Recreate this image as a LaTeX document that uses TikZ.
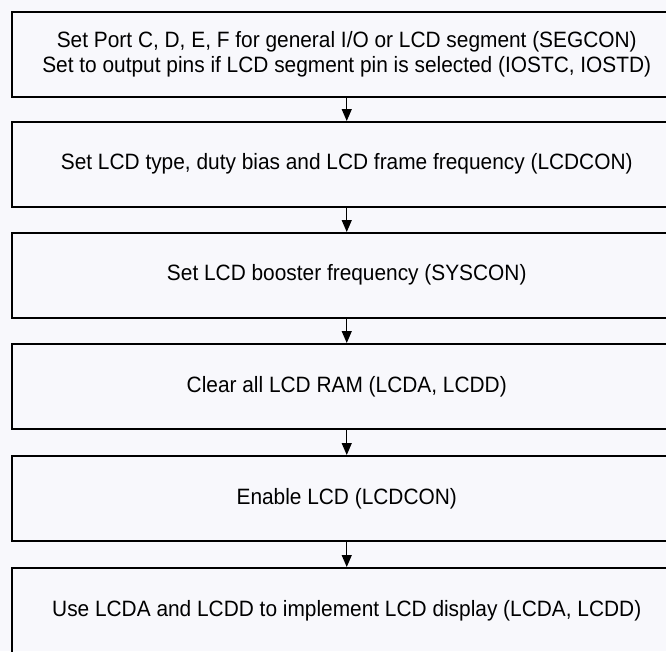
\documentclass[tikz,border=0pt]{standalone}
\usepackage{fontspec}
\setmainfont[FakeStretch=0.94]{Liberation Sans}
\usetikzlibrary{arrows.meta}

\definecolor{fon}{RGB}{248,248,252}

\begin{document}
\begin{tikzpicture}[x=1pt,y=-1pt,
    blok/.style={draw,line width=1.5pt,minimum width=670pt,minimum height=85pt,
        anchor=north west,align=center,inner sep=0pt,
        font=\fontsize{22.2}{25}\selectfont},
    strelka/.style={line width=1.2pt,-{Triangle[width=10pt,length=12pt]}}]
    % поле
    \useasboundingbox (0,0) rectangle (666,651);
    \fill [fon] (0,0) rectangle (666,651);
    \clip (0,0) rectangle (666,651);

    % блоки
    \node [blok] (segcon) at (11,11) {Set Port C, D, E, F for general I/O or LCD segment (SEGCON)\\
        Set to output pins if LCD segment pin is selected (IOSTC, IOSTD)};
    \node [blok] (lcdtype) at (11,121) {Set LCD type, duty bias and LCD frame frequency (LCDCON)};
    \node [blok] (booster) at (11,232) {Set LCD booster frequency (SYSCON)};
    \node [blok] (clrram) at (11,343) {Clear all LCD RAM (LCDA, LCDD)};
    \node [blok] (enable) at (11,455) {Enable LCD (LCDCON)};
    \node [blok] (display) at (11,567) {Use LCDA and LCDD to implement LCD display (LCDA, LCDD)};

    % стрелки
    \draw [strelka] (segcon) -- (lcdtype);
    \draw [strelka] (lcdtype) -- (booster);
    \draw [strelka] (booster) -- (clrram);
    \draw [strelka] (clrram) -- (enable);
    \draw [strelka] (enable) -- (display);
\end{tikzpicture}
\end{document}
